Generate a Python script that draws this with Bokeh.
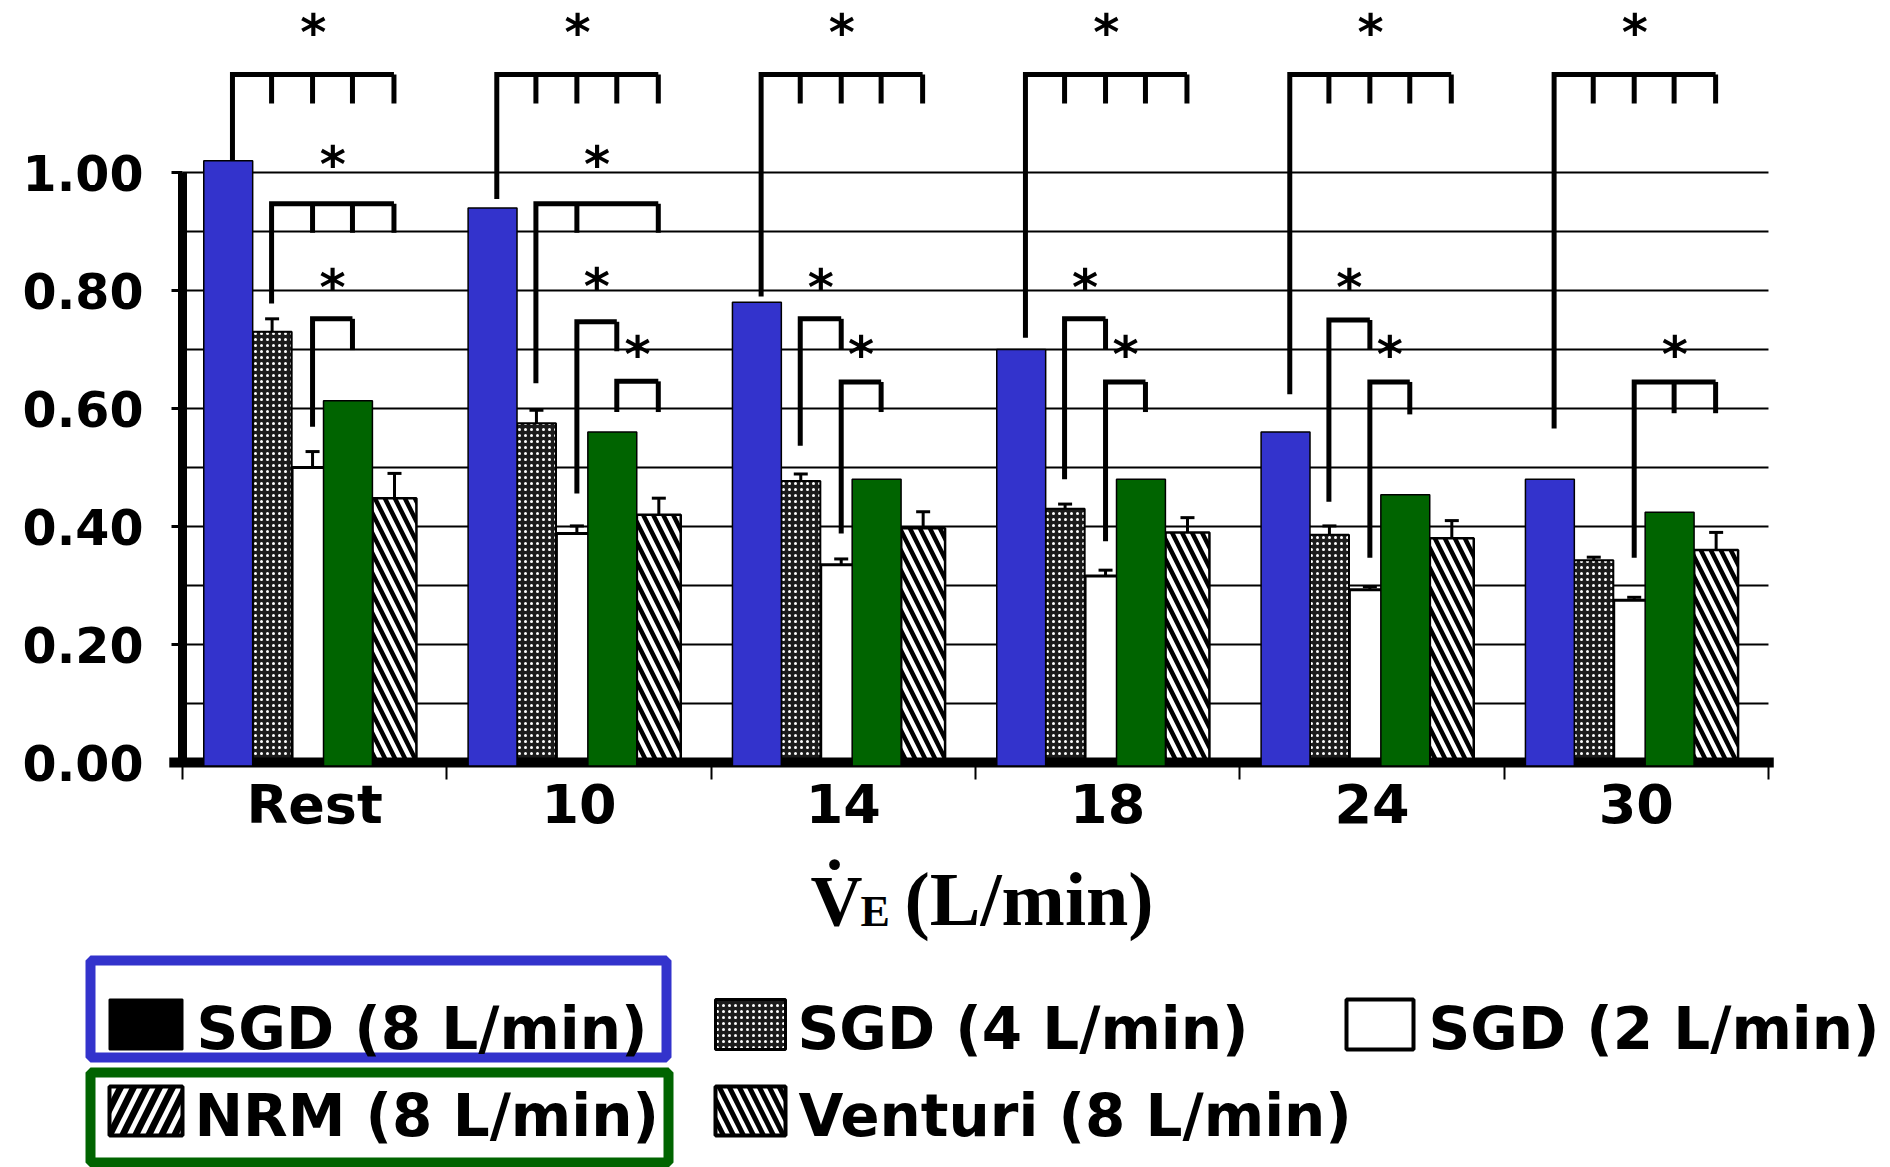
from bokeh.plotting import figure
from bokeh.models import (ColumnDataSource, Range1d, FixedTicker, NumeralTickFormatter,
                          Whisker, TeeHead)
from bokeh.transform import dodge
from bokeh.core.properties import value
from bokeh.embed import file_html
from bokeh.resources import INLINE

# ---------------- data ----------------
groups = ["Rest", "10", "14", "18", "24", "30"]
sgd8 = [1.02, 0.94, 0.78, 0.70, 0.56, 0.48]
sgd4 = [0.73, 0.575, 0.477, 0.43, 0.386, 0.343]
sgd4_err = [0.022, 0.022, 0.012, 0.008, 0.015, 0.005]
sgd2 = [0.50, 0.388, 0.335, 0.316, 0.293, 0.275]
sgd2_err = [0.027, 0.013, 0.010, 0.010, 0.005, 0.005]
nrm = [0.613, 0.56, 0.48, 0.48, 0.454, 0.424]
venturi = [0.448, 0.42, 0.397, 0.39, 0.38, 0.36]
venturi_err = [0.042, 0.028, 0.028, 0.025, 0.030, 0.030]

y_ticks = [0.0, 0.2, 0.4, 0.6, 0.8, 1.0]
grid_ticks = [0.1, 0.2, 0.3, 0.4, 0.5, 0.6, 0.7, 0.8, 0.9, 1.0]
series_names = ["SGD (8 L/min)", "SGD (4 L/min)", "SGD (2 L/min)",
                "NRM (8 L/min)", "Venturi (8 L/min)"]
x_title_parts = ["V", "\u02d9", "E", "(L/min)"]

# significance brackets: group, from-series, to-series, from_y, top_y, tick_y, star_y
top_from = [1.02, 0.955, 0.79, 0.72, 0.624, 0.566]
brackets = [(g, 0, [1, 2, 3, 4], top_from[g], 1.166, 1.117, 1.245) for g in range(6)] + [
    (0, 1, [2, 3, 4], 0.778, 0.947, 0.898, 1.021),
    (1, 1, [2, 4], 0.643, 0.947, 0.898, 1.021),
    (0, 2, [3], 0.569, 0.752, 0.699, 0.812),
    (1, 2, [3], 0.456, 0.747, 0.697, 0.814),
    (1, 3, [4], 0.594, 0.646, 0.594, 0.700),
    (2, 1, [2], 0.537, 0.752, 0.700, 0.813),
    (2, 2, [3], 0.388, 0.645, 0.594, 0.700),
    (3, 1, [2], 0.480, 0.752, 0.700, 0.813),
    (3, 2, [3], 0.375, 0.645, 0.594, 0.700),
    (4, 1, [2], 0.442, 0.750, 0.700, 0.812),
    (4, 2, [3], 0.347, 0.645, 0.590, 0.700),
    (5, 2, [3, 4], 0.347, 0.645, 0.592, 0.700),
]

# ---------------- styles / layout ----------------
BLUE = "#3333CC"
GREEN = "#006400"
TICK_FONT = "DejaVu Sans"
W, H = 1890, 1167
centers = [i + 0.5 for i in range(len(groups))]
bounds = list(range(len(groups) + 1))
bracket_off = [-0.311, -0.163, -0.008, 0.143, 0.300]

src = ColumnDataSource(dict(
    x=centers, sgd8=sgd8, sgd4=sgd4, sgd2=sgd2, nrm=nrm, venturi=venturi,
    sgd4_lo=[v - e for v, e in zip(sgd4, sgd4_err)], sgd4_hi=[v + e for v, e in zip(sgd4, sgd4_err)],
    sgd2_lo=[v - e for v, e in zip(sgd2, sgd2_err)], sgd2_hi=[v + e for v, e in zip(sgd2, sgd2_err)],
    venturi_lo=[v - e for v, e in zip(venturi, venturi_err)],
    venturi_hi=[v + e for v, e in zip(venturi, venturi_err)],
))

p = figure(width=W, height=H, min_border=0, min_border_left=0, min_border_right=0,
           min_border_top=0, min_border_bottom=0,
           x_range=Range1d(-0.68853, 6.46162), y_range=Range1d(-0.68644, 1.29153),
           output_backend="svg", toolbar_location=None)
p.outline_line_color = None
p.background_fill_color = "white"
p.border_fill_color = "white"
# pixel-space ranges for the title and legend (image pixel coordinates, y down)
p.extra_x_ranges = {"px": Range1d(0, W)}
p.extra_y_ranges = {"px": Range1d(H, 0)}

# axes, drawn inside the frame at the data origin
ya = p.yaxis[0]
ya.fixed_location = 0
ya.ticker = FixedTicker(ticks=y_ticks)
ya.formatter = NumeralTickFormatter(format="0.00")
ya.bounds = (0, 1.0)
ya.axis_line_width = 9
ya.axis_line_color = "black"
ya.major_tick_out = 11
ya.major_tick_in = 0
ya.major_tick_line_width = 3
ya.minor_tick_line_color = None
ya.major_label_text_font = TICK_FONT
ya.major_label_text_font_style = "bold"
ya.major_label_text_font_size = "49px"
ya.major_label_text_color = "black"
ya.major_label_standoff = 28

xa = p.xaxis[0]
xa.fixed_location = 0
xa.ticker = FixedTicker(ticks=centers, minor_ticks=bounds)
xa.major_label_overrides = {c: g for c, g in zip(centers, groups)}
xa.axis_line_color = None
xa.major_tick_line_color = None
xa.major_tick_out = 17
xa.major_tick_in = 0
xa.minor_tick_out = 17
xa.minor_tick_in = 0
xa.minor_tick_line_width = 2
xa.minor_tick_line_color = "black"
xa.major_label_text_font = TICK_FONT
xa.major_label_text_font_style = "bold"
xa.major_label_text_font_size = "54px"
xa.major_label_text_color = "black"
xa.major_label_standoff = -7

p.grid.visible = False
# horizontal grid lines between the axis and the last group
gl = p.segment(x0=[bounds[0]] * len(grid_ticks), x1=[bounds[-1]] * len(grid_ticks),
               y0=grid_ticks, y1=grid_ticks, line_color="black", line_width=2)
gl.level = "underlay"

# original bars
p.vbar(x=dodge("x", -0.008), top="sgd2", bottom=0, width=0.155, source=src,
       fill_color="white", line_color="black", line_width=3)
p.vbar(x=dodge("x", -0.161), top="sgd4", bottom=0, width=0.148, source=src,
       fill_color="#1c1c1c", hatch_pattern="dot", hatch_color="white", hatch_scale=6,
       hatch_weight=2.5, line_color="black", line_width=2)
p.vbar(x=dodge("x", 0.302), top="venturi", bottom=0, width=0.166, source=src,
       fill_color="white", hatch_pattern="\\", hatch_color="black", hatch_scale=20,
       hatch_weight=4.5, line_color="black", line_width=2.5)

# thick x axis line
p.segment(x0=[bounds[0] - 0.05], y0=[0], x1=[bounds[-1] + 0.02], y1=[0],
          line_color="black", line_width=10)

# coloured overlay bars
p.vbar(x=dodge("x", -0.327), top="sgd8", bottom=-0.006, width=0.185, source=src,
       fill_color=BLUE, line_color="black", line_width=1.5)
p.vbar(x=dodge("x", 0.126), top="nrm", bottom=-0.006, width=0.185, source=src,
       fill_color=GREEN, line_color="black", line_width=1.5)

# error bars
for key, off in [("sgd4", -0.161), ("sgd2", -0.008), ("venturi", 0.302)]:
    w = Whisker(source=src, base=dodge("x", off), upper=key + "_hi", lower=key + "_lo",
                line_color="black", line_width=3,
                upper_head=TeeHead(size=14, line_width=3, line_color="black"),
                lower_head=TeeHead(size=14, line_width=3, line_color="black"))
    p.add_layout(w)

# significance brackets
bxs, bys, sx, sy = [], [], [], []
for g, s0, targets, y_from, y_top, y_tick, y_star in brackets:
    x0 = centers[g] + bracket_off[s0]
    xl = centers[g] + bracket_off[targets[-1]]
    bxs.append([x0, x0, xl])
    bys.append([y_from, y_top, y_top])
    for t in targets:
        xt = centers[g] + bracket_off[t]
        bxs.append([xt, xt])
        bys.append([y_top, y_tick])
    sx.append((x0 + xl) / 2)
    sy.append(y_star)
p.multi_line(xs=bxs, ys=bys, line_color="black", line_width=5, line_join="miter")
p.text(x=sx, y=sy, text=["*"] * len(sx), text_font=value("DejaVu Sans"),
       text_font_style="bold", text_font_size="50px", text_align="center",
       text_baseline="alphabetic", y_offset=5, text_color="black")

# ---------------- x-axis title (image pixel coordinates) ----------------
PX = dict(x_range_name="px", y_range_name="px")
serif = value("Liberation Serif")
p.text(x=[810], y=[900], text=[x_title_parts[0]], text_font=serif, text_font_style="bold",
       text_font_size="72px", text_baseline="alphabetic", text_color="black", **PX)
p.text(x=[834], y=[884], text=[x_title_parts[1]], text_font=serif, text_font_style="bold",
       text_font_size="72px", text_baseline="alphabetic", text_align="center",
       text_color="black", **PX)
p.text(x=[860], y=[911], text=[x_title_parts[2]], text_font=serif, text_font_style="bold",
       text_font_size="44px", text_baseline="alphabetic", text_color="black", **PX)
p.text(x=[904], y=[898], text=[x_title_parts[3]], text_font=serif, text_font_style="bold",
       text_font_size="76px", text_baseline="alphabetic", text_color="black", **PX)

# ---------------- legend (image pixel coordinates) ----------------
p.quad(left=[90], right=[666], top=[960], bottom=[1057], fill_color=None,
       line_color=BLUE, line_width=10, **PX)
p.quad(left=[90], right=[668], top=[1072], bottom=[1162], fill_color=None,
       line_color=GREEN, line_width=10, **PX)

swatch_styles = [
    dict(fill_color="black", line_color="black", line_width=2),
    dict(fill_color="#1c1c1c", hatch_pattern="dot", hatch_color="white", hatch_scale=6,
         hatch_weight=2.5, line_color="black", line_width=3),
    dict(fill_color="white", line_color="black", line_width=4),
    dict(fill_color="black", hatch_pattern="/", hatch_color="white", hatch_scale=26,
         hatch_weight=5, line_color="black", line_width=4),
    dict(fill_color="white", hatch_pattern="\\", hatch_color="black", hatch_scale=20,
         hatch_weight=5, line_color="black", line_width=4),
]
swatch_box = [(109, 182, 999, 1049), (715, 785, 999, 1049), (1346, 1413, 999, 1049),
              (109, 182, 1086, 1135), (715, 785, 1086, 1135)]
label_xy = [(196, 1028), (797, 1028), (1428, 1028), (194, 1115), (798, 1115)]
for name, style, (l, r, t, b), (tx, ty) in zip(series_names, swatch_styles, swatch_box, label_xy):
    p.quad(left=[l], right=[r], top=[t], bottom=[b], **style, **PX)
    p.text(x=[tx], y=[ty], text=[name], text_font=value("DejaVu Sans"),
           text_font_style="bold", text_font_size="58px", text_baseline="alphabetic",
           text_color="black", **PX)

open("out.html", "w").write(file_html(p, INLINE))
